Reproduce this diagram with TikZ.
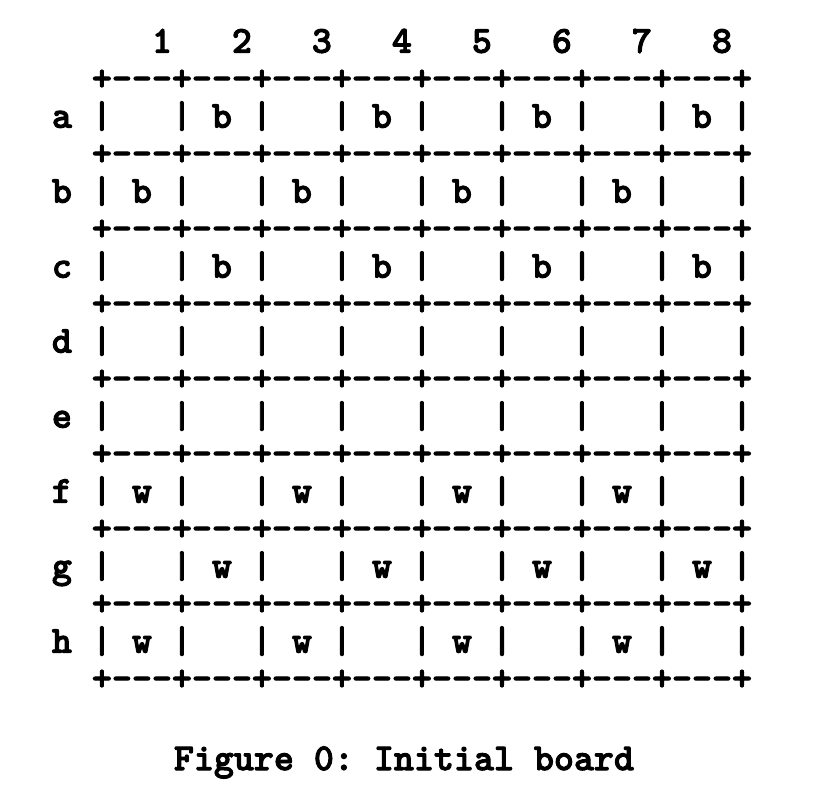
\documentclass[tikz,border=0pt]{standalone}
\usepackage{fontspec}
\newfontfamily\boardfont{lmmonolt10-bold.otf}[FakeBold=2.5]
\usepackage{tikz}
\usetikzlibrary{positioning}
% pieces of one board row
\newcommand\bdrule{+-{}-{}-}
\newcommand\bdnone{|~~~}
\newcommand\bdb{|~b~}
\newcommand\bdw{|~w~}
\tikzset{ascii/.style={inner sep=0pt, align=left, anchor=north west,
  font=\boardfont\fontsize{38.1}{37.5}\selectfont}}

\begin{document}
\begin{tikzpicture}
\useasboundingbox (0pt,0pt) rectangle (828pt,794pt);
\node[ascii] (board) at (51.7pt,767.75pt) {\strut~~~~~1~~~2~~~3~~~4~~~5~~~6~~~7~~~8\\
~~\bdrule\bdrule\bdrule\bdrule\bdrule\bdrule\bdrule\bdrule+\\
a~\bdnone\bdb\bdnone\bdb\bdnone\bdb\bdnone\bdb|\\
~~\bdrule\bdrule\bdrule\bdrule\bdrule\bdrule\bdrule\bdrule+\\
b~\bdb\bdnone\bdb\bdnone\bdb\bdnone\bdb\bdnone|\\
~~\bdrule\bdrule\bdrule\bdrule\bdrule\bdrule\bdrule\bdrule+\\
c~\bdnone\bdb\bdnone\bdb\bdnone\bdb\bdnone\bdb|\\
~~\bdrule\bdrule\bdrule\bdrule\bdrule\bdrule\bdrule\bdrule+\\
d~\bdnone\bdnone\bdnone\bdnone\bdnone\bdnone\bdnone\bdnone|\\
~~\bdrule\bdrule\bdrule\bdrule\bdrule\bdrule\bdrule\bdrule+\\
e~\bdnone\bdnone\bdnone\bdnone\bdnone\bdnone\bdnone\bdnone|\\
~~\bdrule\bdrule\bdrule\bdrule\bdrule\bdrule\bdrule\bdrule+\\
f~\bdw\bdnone\bdw\bdnone\bdw\bdnone\bdw\bdnone|\\
~~\bdrule\bdrule\bdrule\bdrule\bdrule\bdrule\bdrule\bdrule+\\
g~\bdnone\bdw\bdnone\bdw\bdnone\bdw\bdnone\bdw|\\
~~\bdrule\bdrule\bdrule\bdrule\bdrule\bdrule\bdrule\bdrule+\\
h~\bdw\bdnone\bdw\bdnone\bdw\bdnone\bdw\bdnone|\\
~~\bdrule\bdrule\bdrule\bdrule\bdrule\bdrule\bdrule\bdrule+\strut};
\node[ascii, below right=42pt and 122pt of board.south west] (caption) {\strut Figure~0:~Initial~board};
\end{tikzpicture}
\end{document}
